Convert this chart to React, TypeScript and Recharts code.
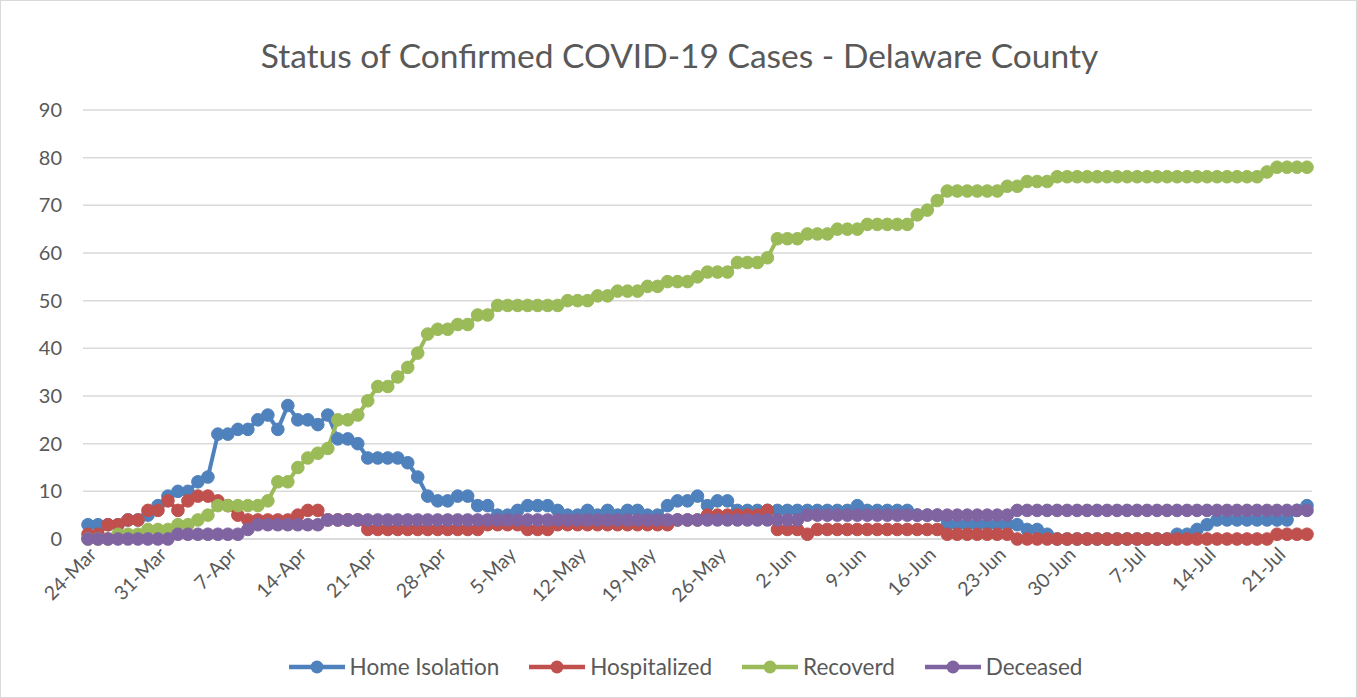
import React from 'react';
import { LineChart, Line, XAxis, YAxis, CartesianGrid, Legend } from 'recharts';

const dates = [
  '24-Mar','25-Mar','26-Mar','27-Mar','28-Mar','29-Mar','30-Mar','31-Mar',
  '1-Apr','2-Apr','3-Apr','4-Apr','5-Apr','6-Apr','7-Apr','8-Apr','9-Apr','10-Apr',
  '11-Apr','12-Apr','13-Apr','14-Apr','15-Apr','16-Apr','17-Apr','18-Apr','19-Apr','20-Apr',
  '21-Apr','22-Apr','23-Apr','24-Apr','25-Apr','26-Apr','27-Apr','28-Apr','29-Apr','30-Apr',
  '1-May','2-May','3-May','4-May','5-May','6-May','7-May','8-May','9-May','10-May',
  '11-May','12-May','13-May','14-May','15-May','16-May','17-May','18-May','19-May','20-May',
  '21-May','22-May','23-May','24-May','25-May','26-May','27-May','28-May','29-May','30-May','31-May',
  '1-Jun','2-Jun','3-Jun','4-Jun','5-Jun','6-Jun','7-Jun','8-Jun','9-Jun','10-Jun',
  '11-Jun','12-Jun','13-Jun','14-Jun','15-Jun','16-Jun','17-Jun','18-Jun','19-Jun','20-Jun',
  '21-Jun','22-Jun','23-Jun','24-Jun','25-Jun','26-Jun','27-Jun','28-Jun','29-Jun','30-Jun',
  '1-Jul','2-Jul','3-Jul','4-Jul','5-Jul','6-Jul','7-Jul','8-Jul','9-Jul','10-Jul',
  '11-Jul','12-Jul','13-Jul','14-Jul','15-Jul','16-Jul','17-Jul','18-Jul','19-Jul','20-Jul',
  '21-Jul','22-Jul','23-Jul','24-Jul',
];

const homeIsolation = [
  3,3,3,3,4,4,5,7,9,10,
  10,12,13,22,22,23,23,25,26,23,
  28,25,25,24,26,21,21,20,17,17,
  17,17,16,13,9,8,8,9,9,7,
  7,5,5,6,7,7,7,6,5,5,
  6,5,6,5,6,6,5,5,7,8,
  8,9,7,8,8,6,6,6,6,6,
  6,6,6,6,6,6,6,7,6,6,
  6,6,6,5,5,5,3,3,3,3,
  3,3,3,3,2,2,1,0,0,0,
  0,0,0,0,0,0,0,0,0,1,
  1,2,3,4,4,4,4,4,4,4,
  4,6,7,
];

const hospitalized = [
  1,1,3,3,4,4,6,6,8,6,
  8,9,9,8,7,5,4,4,4,4,
  4,5,6,6,4,4,4,4,2,2,
  2,2,2,2,2,2,2,2,2,2,
  3,3,3,3,2,2,2,3,3,3,
  3,3,3,3,3,3,3,3,3,4,
  4,4,5,5,5,5,5,5,6,2,
  2,2,1,2,2,2,2,2,2,2,
  2,2,2,2,2,2,1,1,1,1,
  1,1,1,0,0,0,0,0,0,0,
  0,0,0,0,0,0,0,0,0,0,
  0,0,0,0,0,0,0,0,0,1,
  1,1,1,
];

const recovered = [
  0,0,0,1,1,1,2,2,2,3,
  3,4,5,7,7,7,7,7,8,12,
  12,15,17,18,19,25,25,26,29,32,
  32,34,36,39,43,44,44,45,45,47,
  47,49,49,49,49,49,49,49,50,50,
  50,51,51,52,52,52,53,53,54,54,
  54,55,56,56,56,58,58,58,59,63,
  63,63,64,64,64,65,65,65,66,66,
  66,66,66,68,69,71,73,73,73,73,
  73,73,74,74,75,75,75,76,76,76,
  76,76,76,76,76,76,76,76,76,76,
  76,76,76,76,76,76,76,76,77,78,
  78,78,78,
];

const deceased = [
  0,0,0,0,0,0,0,0,0,1,
  1,1,1,1,1,1,2,3,3,3,
  3,3,3,3,4,4,4,4,4,4,
  4,4,4,4,4,4,4,4,4,4,
  4,4,4,4,4,4,4,4,4,4,
  4,4,4,4,4,4,4,4,4,4,
  4,4,4,4,4,4,4,4,4,4,
  4,4,5,5,5,5,5,5,5,5,
  5,5,5,5,5,5,5,5,5,5,
  5,5,5,6,6,6,6,6,6,6,
  6,6,6,6,6,6,6,6,6,6,
  6,6,6,6,6,6,6,6,6,6,
  6,6,6,
];

const yTicks = [0, 10, 20, 30, 40, 50, 60, 70, 80, 90];

const seriesDefs = [
  { key: 'home', name: 'Home Isolation', color: '#4F81BD', values: homeIsolation },
  { key: 'hosp', name: 'Hospitalized', color: '#C0504D', values: hospitalized },
  { key: 'rec', name: 'Recoverd', color: '#9BBB59', values: recovered },
  { key: 'dec', name: 'Deceased', color: '#8064A2', values: deceased },
];

const data = dates.map((d, i) => {
  const row: Record<string, string | number> = { date: d };
  seriesDefs.forEach((s) => {
    row[s.key] = s.values[i];
  });
  return row;
});

const FONT = 'Lato, "Open Sans", sans-serif';
const TEXT = '#595959';

const XTick = (props: any) => {
  const { x, y, payload } = props;
  return (
    <g transform={`translate(${x + 5},${y + 4}) rotate(-45)`}>
      <text x={0} y={0} dy="0.35em" textAnchor="end" fill={TEXT} fontSize={19.5} fontFamily={FONT}>
        {payload.value}
      </text>
    </g>
  );
};

const LegendContent = () => (
  <div style={{ display: 'flex', justifyContent: 'center', alignItems: 'center', fontFamily: FONT, paddingLeft: 14 }}>
    {seriesDefs.map((s) => (
      <div key={s.key} style={{ display: 'flex', alignItems: 'center', margin: '0 15px' }}>
        <svg width={56} height={16}>
          <line x1={0} y1={8} x2={56} y2={8} stroke={s.color} strokeWidth={4.5} />
          <circle cx={28} cy={8} r={6.5} fill={s.color} />
        </svg>
        <span style={{ marginLeft: 5, fontSize: 22.5, color: TEXT }}>{s.name}</span>
      </div>
    ))}
  </div>
);

export default function App() {
  return (
    <div
      style={{
        position: 'absolute',
        left: 0,
        top: 0,
        width: 1357,
        height: 698,
        boxSizing: 'border-box',
        border: '1px solid #d9d9d9',
        background: '#fff',
        overflow: 'hidden',
      }}
    >
      <div
        style={{
          position: 'absolute',
          top: 33,
          left: 0,
          width: 1357,
          textAlign: 'center',
          fontFamily: FONT,
          fontSize: 33.5,
          color: TEXT,
          lineHeight: '42px',
        }}
      >
        Status of Confirmed COVID-19 Cases - Delaware County
      </div>
      <div style={{ position: 'absolute', left: -1, top: -1 }}>
        <LineChart
          width={1357}
          height={698}
          data={data}
          margin={{ top: 110, right: 45, bottom: 79, left: 0 }}
        >
          <CartesianGrid vertical={false} stroke="#d9d9d9" strokeWidth={1.5} />
          <XAxis
            dataKey="date"
            interval={6}
            height={80}
            padding={{ left: 5, right: 5 }}
            tickLine={false}
            axisLine={{ stroke: '#d9d9d9', strokeWidth: 1.5 }}
            tick={<XTick />}
          />
          <YAxis
            width={83}
            domain={[0, 90]}
            ticks={yTicks}
            axisLine={false}
            tickLine={false}
            tickMargin={15}
            tick={{ fill: TEXT, fontSize: 20, fontFamily: FONT }}
          />
          <Legend
            verticalAlign="middle"
            layout="horizontal"
            align="center"
            wrapperStyle={{ top: 653, left: 0, width: 1357 }}
            content={<LegendContent />}
          />
          {seriesDefs.map((s) => (
            <Line
              key={s.key}
              type="linear"
              dataKey={s.key}
              name={s.name}
              stroke={s.color}
              strokeWidth={4}
              dot={{ r: 6.3, fill: s.color, stroke: s.color, strokeWidth: 1 }}
              activeDot={false}
              isAnimationActive={false}
            />
          ))}
        </LineChart>
      </div>
    </div>
  );
}
